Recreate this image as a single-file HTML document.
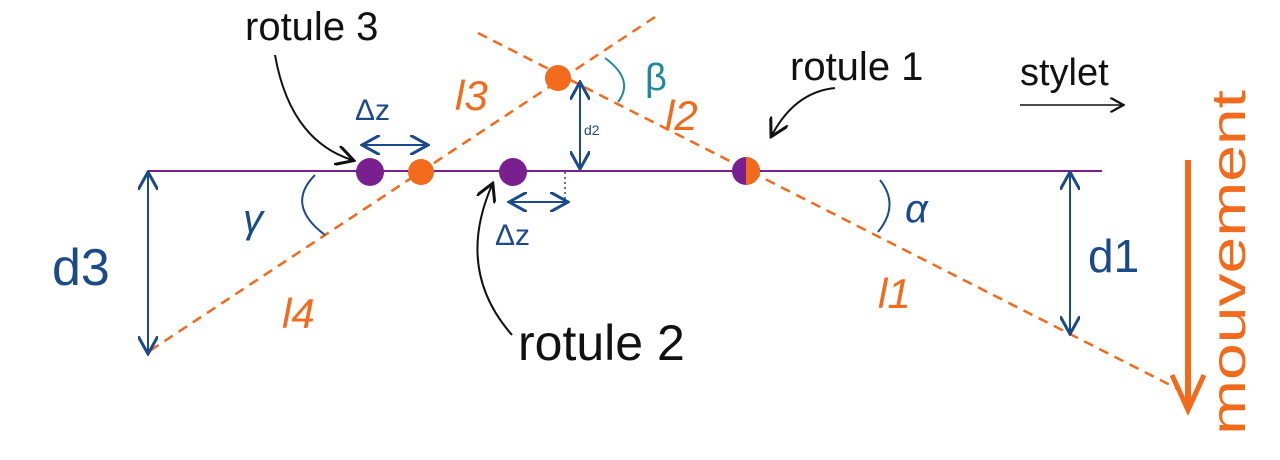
<!DOCTYPE html>
<html><head><meta charset="utf-8"><style>
html,body{margin:0;padding:0;background:#fff;width:1280px;height:460px;overflow:hidden}
svg text{font-family:"Liberation Sans",sans-serif}
</style></head><body>
<svg width="1280" height="460" viewBox="0 0 1280 460">
<defs>
<marker id="ab" markerWidth="10" markerHeight="10" refX="8" refY="5" orient="auto-start-reverse"><path d="M0,0 L9,5 L0,10" fill="none" stroke="#1a4a8a" stroke-width="1.5"/></marker>
<marker id="ak" markerWidth="10" markerHeight="10" refX="8" refY="5" orient="auto"><path d="M0,0 L9,5 L0,10" fill="none" stroke="#111" stroke-width="1.5"/></marker>
</defs>
<line x1="148" y1="171" x2="1102" y2="171" stroke="#7a1f8f" stroke-width="2"/>
<line x1="478" y1="33" x2="1180" y2="390" stroke="#f26a1b" stroke-width="2.5" stroke-dasharray="10,7"/>
<line x1="655" y1="17" x2="148" y2="352" stroke="#f26a1b" stroke-width="2.5" stroke-dasharray="10,7"/>
<g stroke="#1a4a8a" stroke-width="2" fill="none">
<line x1="148" y1="174" x2="148" y2="352" marker-start="url(#ab)" marker-end="url(#ab)"/>
<line x1="1070" y1="174" x2="1070" y2="332" marker-start="url(#ab)" marker-end="url(#ab)"/>
<line x1="580" y1="84" x2="580" y2="167" marker-start="url(#ab)" marker-end="url(#ab)"/>
<line x1="364" y1="145" x2="426" y2="145" marker-start="url(#ab)" marker-end="url(#ab)"/>
<line x1="511" y1="202" x2="566" y2="202" marker-start="url(#ab)" marker-end="url(#ab)"/>
<line x1="565" y1="172" x2="565" y2="202" stroke-dasharray="2,3" stroke-width="1.5"/>
<path d="M315,175 Q285,205 325,235"/>
<path d="M880,180 Q900,205 878,232"/>
<path d="M1020,105 L1122,105" stroke="#111" stroke-width="1.5" marker-end="url(#ak)"/>
</g>
<path d="M605,58 Q635,80 618,102" stroke="#1e8a9a" stroke-width="2" fill="none"/>
<g stroke="#111" stroke-width="2" fill="none">
<path d="M275,55 Q290,140 352,160" marker-end="url(#ak)"/>
<path d="M835,88 Q795,92 772,135" marker-end="url(#ak)"/>
<path d="M512,335 Q455,270 492,185" marker-end="url(#ak)"/>
</g>
<circle cx="370" cy="172" r="14" fill="#7a1f8f"/>
<circle cx="421" cy="172" r="13" fill="#f26a1b"/>
<circle cx="513" cy="172" r="14" fill="#7a1f8f"/>
<circle cx="558" cy="78" r="13" fill="#f26a1b"/>
<circle cx="746" cy="171" r="14" fill="#7a1f8f"/>
<path d="M746,157 A14,14 0 0 1 746,185 Z" fill="#f26a1b"/>
<line x1="1188" y1="160" x2="1188" y2="405" stroke="#f26a1b" stroke-width="6"/>
<path d="M1172,375 L1188,410 L1204,375" stroke="#f26a1b" stroke-width="5" fill="none"/>
<text x="245" y="40" font-size="40" fill="#111">rotule 3</text>
<text x="790" y="80" font-size="40" fill="#111">rotule 1</text>
<text x="518" y="360" font-size="50" fill="#111">rotule 2</text>
<text x="1020" y="85" font-size="38" fill="#111">stylet</text>
<text transform="translate(1245,435) rotate(-90)" font-size="48" fill="#f26a1b" textLength="345" lengthAdjust="spacingAndGlyphs">mouvement</text>
<g fill="#1a4a8a">
<text x="355" y="120" font-size="30">Δz</text>
<text x="495" y="245" font-size="30">Δz</text>
<text x="243" y="232" font-size="40" font-style="italic">γ</text>
<text x="905" y="222" font-size="40" font-style="italic">α</text>
<text x="52" y="285" font-size="52">d3</text>
<text x="1088" y="272" font-size="46">d1</text>
<text x="584" y="135" font-size="14">d2</text>
</g>
<text x="645" y="90" font-size="38" fill="#1e8a9a">β</text>
<g fill="#f26a1b" font-style="italic">
<text x="455" y="110" font-size="42">l3</text>
<text x="665" y="130" font-size="42">l2</text>
<text x="282" y="328" font-size="42">l4</text>
<text x="878" y="308" font-size="42">l1</text>
</g>
</svg>
</body></html>
